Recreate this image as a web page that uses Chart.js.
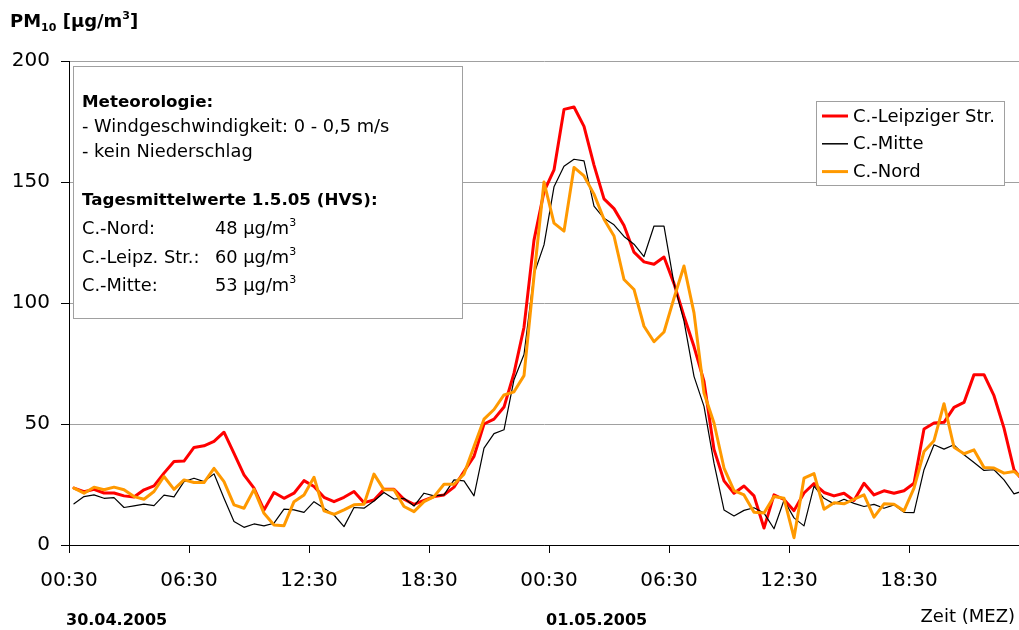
<!DOCTYPE html>
<html>
<head>
<meta charset="utf-8">
<script src="https://cdn.jsdelivr.net/npm/chart.js@4.4.1/dist/chart.umd.min.js"></script>
<style>
  html, body { margin: 0; padding: 0; background: #fff; }
  canvas { display: block; }
</style>
</head>
<body>
<canvas id="pm10" width="1019" height="630"></canvas>
<script>
// half-hourly PM10 values in µg/m3, first value = 30.04.2005 00:30
const leipziger = [23.5, 22, 23, 21.5, 21.5, 20.3, 19.8, 22.8, 24.4, 29.7,
  34.5, 34.7, 40.3, 41, 42.8, 46.6, 37.9, 29, 23.5, 14.5,
  21.7, 19.3, 21.4, 26.6, 24.2, 19.7, 17.9, 19.7, 22.1, 17.5,
  18.6, 23, 23, 18.9, 16.8, 18.4, 20, 20.7, 23.9, 30.4,
  36.6, 50, 52, 57, 71, 90, 126, 146, 155, 180,
  181, 173, 157, 143, 139, 132, 121, 117, 116, 119,
  108, 94.5, 82, 67.6, 39.5, 26.5, 21.4, 24.4, 20.3, 7,
  20.7, 18.8, 14.2, 21.5, 25.4, 21.7, 20.3, 21.4, 18.4, 25.5,
  20.7, 22.4, 21.4, 22.4, 25.5, 47.9, 50.4, 50.7, 56.9, 58.9,
  70.4, 70.4, 61.7, 48.3, 31.1, 26];
const mitte = [17, 20, 20.7, 19.3, 19.6, 15.5, 16.2, 16.9, 16.3, 20.6,
  19.9, 26.2, 27.6, 26.2, 29.4, 19.3, 9.7, 7.3, 8.7, 7.9,
  9, 14.8, 14.5, 13.5, 17.9, 15.2, 12.4, 7.6, 15.5, 15.2,
  18.2, 21.7, 19, 19.3, 16.1, 21.4, 20.3, 20.7, 26.9, 26.5,
  20.3, 40, 46, 47.6, 68.3, 78.7, 112, 124, 148, 156.5,
  159.4, 158.7, 140, 135, 132.3, 127.5, 124.3, 119.2, 131.8, 131.8,
  108, 92.5, 69.7, 57.3, 33.8, 14.5, 12, 14.3, 15.4, 13.2,
  6.7, 18.5, 11.2, 7.9, 24.3, 19.3, 17, 18.9, 17.2, 15.9,
  16.8, 15.2, 16.6, 13.5, 13.4, 31.1, 41.4, 39.6, 41.4, 37.3,
  34.1, 30.8, 31.1, 26.9, 21.1, 22.5];
const nord = [23.5, 21.4, 23.9, 22.8, 23.9, 22.8, 20, 18.9, 22.1, 28.3,
  23, 26.9, 25.8, 25.8, 31.7, 26.2, 16.6, 15.2, 23, 13.1,
  8.3, 8, 17.9, 20.7, 28, 14.1, 12.7, 14.5, 16.6, 16.8,
  29.3, 22.8, 22.8, 15.9, 13.8, 17.9, 20, 25.1, 25.1, 29.3,
  40.7, 52, 56, 62, 63.3, 70, 111, 150, 133, 129.7,
  156, 152.5, 145, 134.6, 127.7, 109.7, 105.6, 90.4, 84, 88,
  102, 115.3, 95.9, 62.8, 50.4, 31.8, 22.5, 20.7, 13.5, 13.2,
  20, 19.3, 3, 27.6, 29.5, 14.8, 17.5, 17, 18.9, 20.7,
  11.5, 17, 16.8, 14.1, 23.5, 38.6, 43.1, 58.4, 40.4, 37.7,
  39.3, 32, 31.8, 29.7, 30.4, 27];

const seriesNames = ['C.-Leipziger Str.', 'C.-Mitte', 'C.-Nord'];
const tickLabels = ['00:30', '06:30', '12:30', '18:30', '00:30', '06:30', '12:30', '18:30'];
const dayLabels = ['30.04.2005', '01.05.2005'];
const xTitle = 'Zeit (MEZ)';

const meteoTitle = 'Meteorologie:';
const meteoLines = ['- Windgeschwindigkeit: 0 - 0,5 m/s', '- kein Niederschlag'];
const meanTitle = 'Tagesmittelwerte 1.5.05 (HVS):';
const meanStations = ['C.-Nord:', 'C.-Leipz. Str.:', 'C.-Mitte:'];
const meanValues = [48, 60, 53];

const FONT = '"DejaVu Sans", "Liberation Sans", sans-serif';
const SLOTS = 95; // half-hour slots visible on the axis

// point i sits in the middle of its half-hour slot
const toPoints = arr => arr.map((v, i) => ({ x: i + 0.5, y: v }));

// draws text pieces one after another (for sub/superscripts)
function drawRuns(ctx, x, y, runs) {
  runs.forEach(r => {
    ctx.font = r.font;
    ctx.fillText(r.text, x, y + (r.dy || 0));
    x += ctx.measureText(r.text).width;
  });
  return x;
}

const overlay = {
  id: 'overlay',
  afterDraw(chart) {
    const ctx = chart.ctx;
    ctx.save();
    ctx.fillStyle = '#000';
    ctx.textBaseline = 'alphabetic';
    ctx.textAlign = 'left';

    // axis title PM10 [µg/m3]
    drawRuns(ctx, 10, 27, [
      { text: 'PM', font: 'bold 18px ' + FONT },
      { text: '10', font: 'bold 11px ' + FONT, dy: 4 },
      { text: ' [µg/m', font: 'bold 18px ' + FONT },
      { text: '3', font: 'bold 11px ' + FONT, dy: -8 },
      { text: ']', font: 'bold 18px ' + FONT }
    ]);

    // date labels under the axis
    ctx.font = 'bold 16px ' + FONT;
    ctx.fillText(dayLabels[0], 66, 625);
    ctx.fillText(dayLabels[1], 546, 625);
    ctx.font = '18px ' + FONT;
    ctx.textAlign = 'right';
    ctx.fillText(xTitle, 1015, 622);
    ctx.textAlign = 'left';

    // info box
    ctx.fillStyle = '#fff';
    ctx.fillRect(73.5, 66.5, 389, 252);
    ctx.strokeStyle = '#a0a0a0';
    ctx.lineWidth = 1;
    ctx.strokeRect(73.5, 66.5, 389, 252);
    ctx.fillStyle = '#000';
    ctx.font = 'bold 16.7px ' + FONT;
    ctx.fillText(meteoTitle, 82, 107);
    ctx.font = '17.8px ' + FONT;
    meteoLines.forEach((t, i) => ctx.fillText(t, 82, 132 + i * 24.5));
    ctx.font = 'bold 16.7px ' + FONT;
    ctx.fillText(meanTitle, 82, 205);
    meanStations.forEach((s, i) => {
      const y = 234 + i * 28.7;
      ctx.font = '17.8px ' + FONT;
      ctx.fillText(s, 82, y);
      drawRuns(ctx, 215, y, [
        { text: meanValues[i] + ' µg/m', font: '17.8px ' + FONT },
        { text: '3', font: '11px ' + FONT, dy: -8 }
      ]);
    });

    // legend box
    ctx.fillStyle = '#fff';
    ctx.fillRect(816.5, 101.5, 188, 84);
    ctx.strokeStyle = '#a0a0a0';
    ctx.lineWidth = 1;
    ctx.strokeRect(816.5, 101.5, 188, 84);
    ctx.font = '18px ' + FONT;
    ctx.textBaseline = 'middle';
    chart.data.datasets.forEach((ds, i) => {
      const y = 116 + i * 27.8;
      ctx.strokeStyle = ds.borderColor;
      ctx.lineWidth = ds.borderWidth < 2 ? 1.5 : ds.borderWidth;
      ctx.beginPath();
      ctx.moveTo(822, y);
      ctx.lineTo(848, y);
      ctx.stroke();
      ctx.fillStyle = '#000';
      ctx.fillText(ds.label, 853, y + 1);
    });
    ctx.restore();
  }
};

new Chart(document.getElementById('pm10'), {
  type: 'line',
  data: {
    datasets: [
      { label: seriesNames[0], data: toPoints(leipziger), borderColor: '#ff0000', borderWidth: 3, order: 2 },
      { label: seriesNames[1], data: toPoints(mitte), borderColor: '#000000', borderWidth: 1.2, order: 1 },
      { label: seriesNames[2], data: toPoints(nord), borderColor: '#ff9900', borderWidth: 3, order: 0 }
    ]
  },
  options: {
    responsive: false,
    animation: false,
    layout: { padding: { top: 61, left: 0, right: 0, bottom: 0 } },
    elements: {
      line: { tension: 0, fill: false, borderJoinStyle: 'round', borderCapStyle: 'round' },
      point: { radius: 0, hoverRadius: 0 }
    },
    plugins: {
      legend: { display: false },
      tooltip: { enabled: false },
      title: { display: false }
    },
    scales: {
      x: {
        type: 'linear',
        min: 0,
        max: SLOTS,
        afterBuildTicks: scale => {
          scale.ticks = tickLabels.map((t, i) => ({ value: i * 12 }));
        },
        afterFit: scale => { scale.height = 85; },
        ticks: {
          autoSkip: false,
          maxRotation: 0,
          padding: 16,
          color: '#000',
          font: { family: FONT, size: 20 },
          callback: (value, index) => tickLabels[index]
        },
        grid: { drawOnChartArea: false, drawTicks: true, tickLength: 8, tickColor: '#000', tickWidth: 1 },
        border: { display: true, color: '#000', width: 1 }
      },
      y: {
        min: 0,
        max: 200,
        afterFit: scale => { scale.width = 69; },
        ticks: {
          stepSize: 50,
          padding: 11,
          color: '#000',
          font: { family: FONT, size: 20 }
        },
        grid: {
          color: ctx => (ctx.tick && ctx.tick.value === 0 ? '#000' : '#a0a0a0'),
          lineWidth: 1,
          drawTicks: true,
          tickLength: 8,
          tickColor: '#000'
        },
        border: { display: true, color: '#000', width: 1 }
      }
    }
  },
  plugins: [overlay]
});
</script>
</body>
</html>
